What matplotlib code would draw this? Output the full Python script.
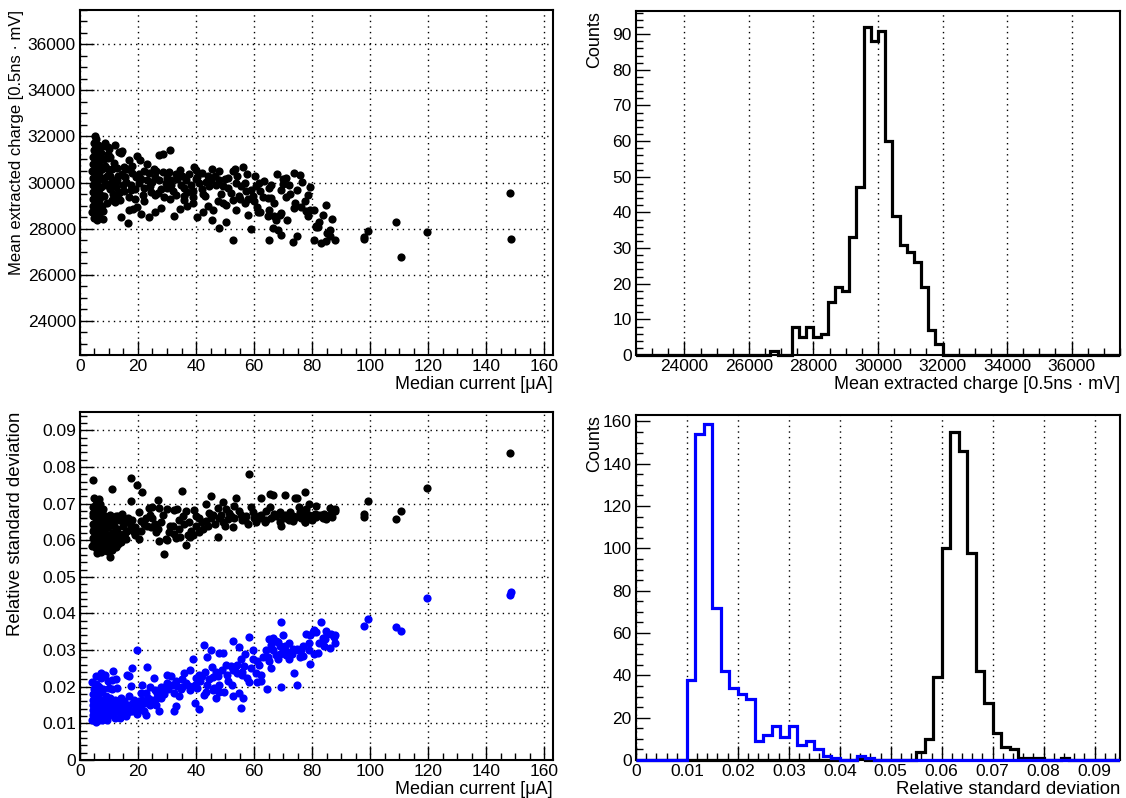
import numpy as np
import matplotlib
matplotlib.use('Agg')
import matplotlib.pyplot as plt
from matplotlib.ticker import MultipleLocator
from matplotlib.patches import Rectangle

plt.rcParams['font.family'] = ['Liberation Sans', 'DejaVu Sans']
plt.rcParams['axes.formatter.useoffset'] = False

# ---- top left: mean extracted charge vs median current ----
charge_x = [
    4.3, 4.5, 4.4, 4.6, 4.4, 4.5, 4.3, 4.6, 4.5, 4.7, 4.8,
    5.5, 5.4, 5.6, 5.3, 5.7, 5.5, 5.4, 5.6, 5.5, 5.3, 5.6, 5.4,
    6.4, 6.6, 6.5, 6.7, 6.3, 6.5, 6.6, 6.4, 6.5, 6.2, 6.1,
    7.5, 7.6, 7.4, 7.7, 7.5, 7.3, 7.1,
    8.4, 9.0, 9.4, 8.8, 10.2, 10.8, 11.4, 12.4, 9.3, 13.0, 8.2, 9.6, 13.9, 12.0, 7.9, 8.6,
    8.5, 12.0, 10.0, 13.4, 14.6, 9.6, 10.5, 14.0, 16.9, 19.8, 20.6, 27.3, 28.6, 31.1,
    11.1, 12.9, 15.2, 16.1, 14.6, 18.0, 19.2, 22.0, 23.8, 26.1, 30.7, 33.0, 39.4, 39.9,
    42.0, 45.5, 47.8, 52.6, 56.1, 60.3, 61.8, 70.1, 73.9, 75.7, 76.5, 79.4,
    11.5, 12.3, 15.7, 17.5, 20.3, 22.1, 23.2, 25.0, 27.3, 29.6, 31.3, 33.6, 34.8, 36.5,
    38.2, 41.1, 43.4, 45.1, 46.9, 49.2, 50.9, 53.8, 55.5, 57.2, 59.0, 60.7, 63.0, 64.7,
    65.9, 69.3, 71.1, 72.2, 74.9,
    11.1, 12.3, 13.4, 15.2, 17.5, 18.3, 19.8, 14.2, 16.4, 23.8, 25.8, 32.4, 34.4, 35.7,
    38.8, 40.3, 44.0, 45.5, 45.9, 47.4, 48.0, 49.2, 50.3, 52.6, 52.9, 53.8, 54.9, 56.9,
    59.1, 60.1, 61.5, 62.2, 64.7, 65.3, 66.5, 66.8, 67.4, 68.2, 68.8, 69.3, 69.3, 65.3,
    71.5, 73.4, 73.7, 74.9, 77.4, 78.0, 78.6, 79.1, 81.2,
    84.7, 79.2, 83.6, 86.9, 81.5, 82.1, 85.0, 86.3, 80.6, 83.2, 84.7, 87.8,
    98.0, 98.0, 99.4, 108.8, 110.7, 119.6, 148.1, 148.6,
    21.0, 24.0, 26.0, 28.0, 30.0, 32.0, 35.0, 37.0, 40.0, 42.0, 44.0, 48.0, 51.0, 54.0,
    57.0, 62.0, 58.0, 66.0, 68.0, 71.0, 36.0, 39.0, 43.0, 29.0, 19.0, 22.0, 26.0, 31.0,
    9.5, 10.5, 11.8, 12.8, 13.6, 14.8, 15.6, 16.8, 17.8, 18.8,
    20.5, 21.8, 23.0, 24.5, 25.5, 27.0, 28.5, 30.0, 31.5, 33.0,
    34.5, 36.0, 37.5, 39.0, 40.5, 42.5, 44.5, 46.5, 48.5, 50.0,
    52.0, 53.5, 55.0, 57.5, 59.5, 61.0, 63.5, 65.0, 67.0, 69.8,
    72.5, 74.0, 76.0, 78.5, 80.5, 82.5, 86.0, 58.0, 50.5, 42.5,
    36.8, 28.0, 21.0, 17.0, 8.0, 6.0, 5.0, 9.8, 7.8, 5.2,
]
charge_y = [
    28700, 29000, 29300, 29600, 29900, 30200, 30500, 30800, 31100, 31400, 31700,
    28550, 28850, 29150, 29450, 29750, 30050, 30350, 30650, 30950, 31250, 31550, 31880,
    28650, 28950, 29250, 29550, 29850, 30150, 30450, 30750, 31050, 31350, 31650,
    29000, 29400, 29800, 30200, 30600, 31000, 31300,
    29400, 29900, 30300, 30700, 29700, 30000, 29500, 29800, 29100, 30300, 31000, 31250, 29250, 29150, 28750, 30000,
    31730, 31630, 31440, 31340, 31390, 31050, 31130, 31270, 30980, 31150, 30980, 31180, 31240, 31420,
    30580, 30620, 30660, 30580, 30360, 30400, 30260, 30480, 30400, 30480, 30450, 30380, 30690, 30550,
    30400, 30580, 30480, 30480, 30690, 30290, 29970, 30140, 30430, 30330, 30040, 29800,
    30120, 30040, 30040, 29900, 29970, 29760, 30120, 30040, 30090, 29970, 29900, 30140, 29900, 30120,
    29900, 29970, 30040, 30120, 29900, 29830, 29760, 29970, 29830, 29610, 29680, 29830, 29390, 29320,
    29320, 29680, 29390, 29900, 29680,
    29250, 29320, 29540, 29610, 29680, 28850, 28930, 28480, 28240, 28500, 28700, 28530, 28850, 29250,
    29390, 28500, 28990, 28380, 28820, 29180, 28020, 29130, 29030, 27520, 29250, 28790, 29420, 29100,
    27980, 29180, 28700, 28700, 28530, 28790, 28020, 28530, 28380, 27950, 28600, 27730, 28670, 27490,
    28380, 27400, 28890, 27660, 29210, 28740, 28530, 28740, 28050,
    29030, 28790, 28600, 28410, 28090, 28050, 27810, 27690, 27490, 27370, 27440, 27520,
    27630, 27550, 27880, 28280, 26740, 27850, 29540, 27560,
    30150, 29850, 30250, 29700, 30200, 29650, 30300, 29600, 30150, 29700, 30300, 30100, 30200, 30300,
    30000, 29650, 29300, 29900, 30350, 30200, 29400, 29100, 29400, 29350, 29300, 29200, 29450, 29300,
    30600, 30300, 30850, 30100, 29600, 29900, 30250, 29350, 30700, 29700,
    30350, 29450, 30800, 29600, 30600, 29550, 30450, 29750, 30100, 29450,
    30550, 29750, 30350, 29650, 30250, 29500, 29850, 30300, 29500, 30150,
    29550, 30600, 29300, 30350, 29400, 28950, 30050, 29750, 29100, 29950,
    29500, 29100, 28950, 29450, 28800, 28300, 27950, 28600, 28300, 28700,
    29000, 28900, 28650, 28800, 28400, 28350, 28450, 31550, 31600, 32000,
]

# ---- bottom left: relative standard deviation vs median current ----
rsd_black_x = [
    4.3, 4.5, 4.4, 4.6, 4.4, 4.5,
    5.4, 5.6, 5.5, 5.3, 5.6, 5.5, 5.4,
    6.5, 6.4, 6.6, 6.5, 6.3, 6.6,
    7.5, 7.6, 7.4, 7.7, 7.5,
    8.5, 8.6, 8.4, 8.8, 9.5, 9.8, 10.2, 11.0, 11.5, 12.0, 12.8, 13.5, 14.2, 7.0, 8.0, 9.4,
    15.0, 16.2, 13.0, 10.5, 5.0, 4.8,
    4.55, 10.9, 17.5, 19.5, 21.5, 17.7, 6.5, 26.9, 35.1, 45.1, 58.4, 49.2, 53.8, 62.4,
    65.5, 66.5, 70.5, 74.0, 74.8, 77.4, 79.1, 81.4,
    20.3, 23.8, 25.0, 27.3, 30.1, 32.4, 33.6, 36.5, 39.4, 43.4, 47.4, 50.3, 53.2, 54.9,
    57.2, 59.5, 61.8, 64.1, 67.0, 68.8, 71.1, 73.4, 75.7, 78.0, 80.3, 52.6, 60.7, 63.6,
    69.3, 73.4, 77.4,
    12.3, 14.6, 15.7, 17.5, 20.9, 22.7, 24.4, 26.1, 27.3, 29.0, 29.6, 30.7, 32.4, 34.2,
    36.5, 37.1, 38.2, 39.9, 41.1, 43.4, 45.1, 47.4, 49.2, 50.9, 10.5, 7.1, 11.1, 12.3,
    14.0, 15.7, 20.3, 18.6, 13.4, 10.0, 8.8, 7.7, 11.7,
    78.0, 75.7, 76.9, 77.5, 81.5, 83.8, 84.7, 86.9, 86.3, 87.8,
    98.0, 98.0, 99.4, 108.8, 110.7, 119.6, 148.1,
    22.0, 25.0, 28.0, 31.0, 34.0, 36.0, 40.0, 42.0, 44.0, 46.0, 48.0, 52.0, 56.0, 58.0,
    62.0, 66.0, 70.0, 72.0, 76.0, 80.0, 82.0, 84.0, 38.0, 33.0, 27.0, 19.0,
    9.0, 10.0, 11.2, 12.5, 13.2, 14.5, 15.5, 16.5, 18.0, 19.0,
    21.0, 23.0, 24.0, 26.0, 28.5, 30.0, 32.0, 34.5, 35.5, 37.5,
    39.0, 41.0, 42.5, 44.5, 46.5, 48.5, 50.0, 51.5, 53.0, 55.5,
    57.0, 58.8, 60.0, 62.5, 64.0, 65.5, 67.5, 69.0, 70.5, 72.5,
    74.5, 75.5, 77.0, 79.0, 80.0, 81.0, 83.0, 85.0, 86.0, 88.0,
    5.0, 6.0, 7.0, 8.0, 5.8, 7.2, 6.8, 4.6, 9.2, 10.8,
]
rsd_black_y = [
    0.0585, 0.0605, 0.0625, 0.0645, 0.0665, 0.0690,
    0.0580, 0.0600, 0.0620, 0.0640, 0.0660, 0.0680, 0.0700,
    0.0590, 0.0610, 0.0630, 0.0650, 0.0670, 0.0690,
    0.0595, 0.0615, 0.0635, 0.0655, 0.0675,
    0.0600, 0.0620, 0.0645, 0.0665, 0.0610, 0.0635, 0.0655, 0.0620, 0.0645, 0.0600, 0.0630, 0.0655, 0.0615, 0.0570, 0.0580, 0.0585,
    0.0640, 0.0625, 0.0665, 0.0670, 0.0595, 0.0632,
    0.0764, 0.0739, 0.0770, 0.0750, 0.0732, 0.0707, 0.0712, 0.0710, 0.0734, 0.0721, 0.0782, 0.0705, 0.0714, 0.0714,
    0.0727, 0.0723, 0.0723, 0.0716, 0.0714, 0.0732, 0.0698, 0.0694,
    0.0676, 0.0689, 0.0691, 0.0687, 0.0685, 0.0683, 0.0685, 0.0680, 0.0682, 0.0698, 0.0689, 0.0685, 0.0694, 0.0680,
    0.0667, 0.0676, 0.0667, 0.0680, 0.0671, 0.0676, 0.0662, 0.0667, 0.0671, 0.0662, 0.0667, 0.0635, 0.0651, 0.0649,
    0.0640, 0.0653, 0.0649,
    0.0667, 0.0671, 0.0649, 0.0640, 0.0653, 0.0662, 0.0635, 0.0622, 0.0599, 0.0563, 0.0604, 0.0622, 0.0617, 0.0631,
    0.0586, 0.0613, 0.0626, 0.0640, 0.0622, 0.0653, 0.0662, 0.0608, 0.0649, 0.0658, 0.0554, 0.0568, 0.0572, 0.0581,
    0.0595, 0.0604, 0.0604, 0.0622, 0.0617, 0.0608, 0.0590, 0.0626, 0.0640,
    0.0685, 0.0676, 0.0667, 0.0650, 0.0664, 0.0662, 0.0658, 0.0664, 0.0689, 0.0686,
    0.0671, 0.0664, 0.0707, 0.0657, 0.0680, 0.0743, 0.0839,
    0.0645, 0.0660, 0.0650, 0.0640, 0.0655, 0.0645, 0.0665, 0.0650, 0.0640, 0.0670, 0.0660, 0.0665, 0.0655, 0.0645,
    0.0660, 0.0660, 0.0665, 0.0655, 0.0660, 0.0655, 0.0670, 0.0672, 0.0610, 0.0605, 0.0630, 0.0635,
    0.0650, 0.0590, 0.0655, 0.0610, 0.0590, 0.0655, 0.0620, 0.0660, 0.0655, 0.0615,
    0.0625, 0.0640, 0.0670, 0.0645, 0.0670, 0.0600, 0.0640, 0.0610, 0.0665, 0.0650,
    0.0615, 0.0660, 0.0630, 0.0675, 0.0645, 0.0670, 0.0640, 0.0675, 0.0660, 0.0670,
    0.0655, 0.0690, 0.0660, 0.0670, 0.0655, 0.0690, 0.0665, 0.0650, 0.0670, 0.0678,
    0.0663, 0.0690, 0.0672, 0.0670, 0.0660, 0.0672, 0.0668, 0.0666, 0.0670, 0.0680,
    0.0715, 0.0580, 0.0600, 0.0685, 0.0565, 0.0660, 0.0700, 0.0675, 0.0570, 0.0590,
]
rsd_blue_x = [
    4.3, 4.5, 4.4, 4.6, 4.4, 4.5, 4.7,
    5.5, 5.4, 5.6, 5.3, 5.6, 5.5, 5.4, 5.5,
    6.5, 6.4, 6.6, 6.5, 6.3, 6.6, 6.4,
    7.5, 7.6, 7.4, 7.7, 7.5, 7.3,
    8.5, 8.6, 8.4, 8.8, 9.5, 9.8, 10.2, 11.0, 11.5, 12.0, 12.8, 13.5, 14.2, 15.0, 16.2, 17.0,
    18.0, 19.5, 21.0, 22.5, 24.0, 9.0, 10.5, 12.0, 8.0, 9.5, 7.2, 12.5, 11.0, 14.0,
    19.5, 69.3, 52.6, 58.4, 42.6, 48.0, 49.2, 54.9, 55.5, 38.8, 43.9, 59.5, 65.3, 66.5,
    68.2, 68.8, 70.1, 66.5, 67.6, 68.4, 71.0, 72.2, 73.4, 74.8, 75.7, 76.8, 78.0, 78.9,
    79.4, 80.3, 81.4, 82.0, 64.7, 65.9, 69.3, 73.7, 74.9, 61.8, 60.7, 62.4, 64.4, 58.4,
    60.9, 59.5, 56.7, 55.9, 54.2, 53.6, 52.0, 50.3, 50.7, 52.6, 49.7, 52.6, 54.7, 56.3,
    55.5, 47.8, 46.9, 48.0, 45.5, 45.7, 46.3, 43.9, 43.4, 42.2, 41.1, 39.9, 40.5, 39.7,
    41.1, 42.8, 37.9, 36.0, 37.7, 35.3, 33.6, 32.4, 34.2, 33.0, 32.4, 30.1, 31.3, 29.6,
    28.4, 27.8, 26.7, 25.0, 25.5, 26.1, 27.3, 23.2, 21.5, 22.7, 20.9, 20.3, 18.6, 18.0,
    16.9, 16.3, 17.5, 16.9, 15.7, 14.6, 13.4, 12.9, 11.5, 11.1, 10.0, 8.8, 7.1, 5.6,
    4.2, 6.3, 22.9, 19.2,
    119.6, 148.1, 148.6, 99.4, 98.0, 108.8, 110.7, 83.2, 79.2, 80.6, 84.7, 85.0, 87.8, 83.6,
    84.0, 86.0, 88.0, 76.0, 72.0, 70.0, 63.0, 57.0, 45.0, 47.0, 35.0, 30.0, 24.0, 28.0,
    9.2, 10.3, 11.4, 12.6, 13.8, 15.2, 16.0, 17.2, 18.4, 19.8,
    20.5, 21.5, 22.0, 23.5, 24.5, 25.8, 26.5, 27.8, 29.0, 30.5,
    31.8, 33.0, 34.8, 36.5, 38.0, 39.5, 41.5, 43.0, 44.5, 46.0,
    47.5, 49.0, 51.0, 52.5, 54.0, 56.0, 57.5, 59.0, 61.0, 62.5,
    64.0, 65.0, 66.0, 67.5, 69.0, 70.5, 71.5, 73.0, 75.0, 77.0,
    79.0, 80.5, 82.5, 84.5, 86.5, 87.5, 5.0, 6.0, 7.0, 8.0,
]
rsd_blue_y = [
    0.0108, 0.0122, 0.0136, 0.0150, 0.0164, 0.0180, 0.0195,
    0.0105, 0.0118, 0.0132, 0.0146, 0.0160, 0.0175, 0.0190, 0.0208,
    0.0110, 0.0124, 0.0138, 0.0152, 0.0166, 0.0182, 0.0200,
    0.0108, 0.0122, 0.0136, 0.0150, 0.0165, 0.0185,
    0.0115, 0.0130, 0.0145, 0.0160, 0.0120, 0.0138, 0.0155, 0.0125, 0.0142, 0.0115, 0.0135, 0.0150, 0.0125, 0.0140, 0.0128, 0.0150,
    0.0135, 0.0145, 0.0140, 0.0155, 0.0150, 0.0175, 0.0170, 0.0165, 0.0195, 0.0215, 0.0225, 0.0220, 0.0195, 0.0170,
    0.0300, 0.0377, 0.0326, 0.0336, 0.0313, 0.0293, 0.0291, 0.0309, 0.0277, 0.0275, 0.0280, 0.0300, 0.0329, 0.0333,
    0.0323, 0.0311, 0.0302, 0.0300, 0.0288, 0.0277, 0.0286, 0.0277, 0.0302, 0.0302, 0.0282, 0.0285, 0.0343, 0.0300,
    0.0262, 0.0350, 0.0350, 0.0293, 0.0282, 0.0250, 0.0198, 0.0237, 0.0205, 0.0259, 0.0237, 0.0232, 0.0195, 0.0212,
    0.0212, 0.0276, 0.0257, 0.0232, 0.0237, 0.0255, 0.0257, 0.0259, 0.0232, 0.0246, 0.0187, 0.0174, 0.0183, 0.0169,
    0.0142, 0.0187, 0.0169, 0.0205, 0.0255, 0.0226, 0.0196, 0.0205, 0.0187, 0.0228, 0.0232, 0.0223, 0.0196, 0.0156,
    0.0138, 0.0178, 0.0246, 0.0237, 0.0201, 0.0198, 0.0201, 0.0183, 0.0174, 0.0147, 0.0133, 0.0232, 0.0228, 0.0201,
    0.0192, 0.0174, 0.0183, 0.0165, 0.0223, 0.0151, 0.0133, 0.0255, 0.0205, 0.0183, 0.0183, 0.0160, 0.0165, 0.0250,
    0.0228, 0.0232, 0.0201, 0.0174, 0.0147, 0.0138, 0.0160, 0.0196, 0.0243, 0.0219, 0.0196, 0.0232, 0.0237, 0.0230,
    0.0213, 0.0201, 0.0124, 0.0151,
    0.0441, 0.0450, 0.0458, 0.0386, 0.0367, 0.0364, 0.0351, 0.0377, 0.0341, 0.0354, 0.0351, 0.0345, 0.0341, 0.0334,
    0.0312, 0.0305, 0.0320, 0.0300, 0.0320, 0.0340, 0.0280, 0.0290, 0.0300, 0.0240, 0.0220, 0.0210, 0.0200, 0.0170,
    0.0110, 0.0130, 0.0160, 0.0145, 0.0115, 0.0160, 0.0120, 0.0135, 0.0155, 0.0125,
    0.0150, 0.0165, 0.0135, 0.0170, 0.0160, 0.0190, 0.0170, 0.0200, 0.0180, 0.0195,
    0.0205, 0.0215, 0.0195, 0.0210, 0.0190, 0.0205, 0.0215, 0.0240, 0.0220, 0.0190,
    0.0230, 0.0245, 0.0215, 0.0205, 0.0260, 0.0240, 0.0225, 0.0250, 0.0270, 0.0215,
    0.0300, 0.0270, 0.0315, 0.0325, 0.0290, 0.0310, 0.0295, 0.0290, 0.0300, 0.0310,
    0.0320, 0.0290, 0.0320, 0.0330, 0.0345, 0.0335, 0.0115, 0.0128, 0.0142, 0.0130,
]

# ---- top right: histogram of mean extracted charge ----
q_hist_lo, q_hist_hi, q_nbins = 20000, 40000, 90
q_counts = ([0] * 30 +
            [1, 0, 0, 8, 5, 8, 5, 6, 15, 19, 18, 33, 47, 92, 88, 91, 60, 39, 31, 29, 26, 19, 7, 3] +
            [0] * 36)

# ---- bottom right: histograms of relative standard deviation ----
rsd_hist_lo, rsd_hist_hi, rsd_nbins = 0.0, 0.1, 60
rsd_black_counts = ([0] * 26 + [1] + [0] * 6 +
                    [4, 10, 39, 100, 155, 146, 98, 42, 27, 13, 6, 5, 1, 1, 1] +
                    [0, 0, 1] + [0] * 6 + [1, 0, 0])
rsd_blue_counts = ([0] * 6 +
                   [38, 154, 159, 72, 42, 34, 31, 29, 9, 12, 16, 11, 16, 7, 9, 5, 2, 1, 0, 0, 2, 1] +
                   [0] * 32)

rsd_ticks = [0, 0.01, 0.02, 0.03, 0.04, 0.05, 0.06, 0.07, 0.08, 0.09]
rsd_tick_labels = ['0', '0.01', '0.02', '0.03', '0.04', '0.05', '0.06', '0.07', '0.08', '0.09']

assert len(charge_x) == len(charge_y)
assert len(rsd_black_x) == len(rsd_black_y)
assert len(rsd_blue_x) == len(rsd_blue_y)

BLUE = '#0000ff'
TICK_FS = 12.5
dots = (0, (1, 3))
MS = 5.9


def style_axes(ax, grid_axis):
    for sp in ax.spines.values():
        sp.set_linewidth(1.5)
    ax.tick_params(which='both', direction='in', top=False, right=False, width=1,
                   labelsize=TICK_FS, pad=3)
    ax.tick_params(which='major', length=10)
    ax.tick_params(which='minor', length=5)
    ax.grid(True, which='major', axis=grid_axis, color='k', linestyle=dots, linewidth=1)
    ax.set_axisbelow(True)


def hist_line(ax, counts, edges, color):
    # let the zero level sit on top of the frame, as in the original
    st = ax.stairs(counts, edges, color=color, linewidth=2.3, zorder=3)
    st.set_clip_path(Rectangle((0, -0.02), 1, 1.04, transform=ax.transAxes))


fig = plt.figure(figsize=(11.26, 7.98), dpi=100)

ax_tl = fig.add_axes([0.0710, 0.5551, 0.4201, 0.4324])
ax_tr = fig.add_axes([0.5648, 0.5551, 0.4299, 0.4311])
ax_bl = fig.add_axes([0.0710, 0.0476, 0.4201, 0.4361])
ax_br = fig.add_axes([0.5648, 0.0476, 0.4299, 0.4323])

# top left
ax_tl.plot(charge_x, charge_y, 'o', color='k', ms=MS, mew=0)
ax_tl.set_xlim(0, 163)
ax_tl.set_ylim(22500, 37500)
ax_tl.xaxis.set_major_locator(MultipleLocator(20))
ax_tl.xaxis.set_minor_locator(MultipleLocator(5))
ax_tl.yaxis.set_major_locator(MultipleLocator(2000))
ax_tl.yaxis.set_minor_locator(MultipleLocator(500))
style_axes(ax_tl, 'both')
ax_tl.set_xlabel('Median current [\u03bcA]', fontsize=13, ha='right')
ax_tl.xaxis.set_label_coords(1.0, -0.06)
ax_tl.set_ylabel('Mean extracted charge [0.5ns \u00b7 mV]', fontsize=12, ha='right')
ax_tl.yaxis.set_label_coords(-0.118, 1.0)

# top right
q_edges = np.linspace(q_hist_lo, q_hist_hi, q_nbins + 1)
hist_line(ax_tr, q_counts, q_edges, 'k')
ax_tr.set_xlim(22500, 37500)
ax_tr.set_ylim(0, 96.5)
ax_tr.xaxis.set_major_locator(MultipleLocator(2000))
ax_tr.xaxis.set_minor_locator(MultipleLocator(500))
ax_tr.yaxis.set_major_locator(MultipleLocator(10))
ax_tr.yaxis.set_minor_locator(MultipleLocator(2))
style_axes(ax_tr, 'x')
ax_tr.set_xlabel('Mean extracted charge [0.5ns \u00b7 mV]', fontsize=13, ha='right')
ax_tr.xaxis.set_label_coords(1.0, -0.06)
ax_tr.set_ylabel('Counts', fontsize=13, ha='right')
ax_tr.yaxis.set_label_coords(-0.068, 1.0)

# bottom left
ax_bl.plot(rsd_black_x, rsd_black_y, 'o', color='k', ms=MS, mew=0)
ax_bl.plot(rsd_blue_x, rsd_blue_y, 'o', color=BLUE, ms=MS, mew=0)
ax_bl.set_xlim(0, 163)
ax_bl.set_ylim(0, 0.095)
ax_bl.xaxis.set_major_locator(MultipleLocator(20))
ax_bl.xaxis.set_minor_locator(MultipleLocator(5))
ax_bl.set_yticks(rsd_ticks, rsd_tick_labels)
ax_bl.yaxis.set_minor_locator(MultipleLocator(0.002))
style_axes(ax_bl, 'both')
ax_bl.set_xlabel('Median current [\u03bcA]', fontsize=13, ha='right')
ax_bl.xaxis.set_label_coords(1.0, -0.06)
ax_bl.set_ylabel('Relative standard deviation', fontsize=13.4, ha='right')
ax_bl.yaxis.set_label_coords(-0.118, 1.0)

# bottom right
rsd_edges = np.linspace(rsd_hist_lo, rsd_hist_hi, rsd_nbins + 1)
hist_line(ax_br, rsd_black_counts, rsd_edges, 'k')
hist_line(ax_br, rsd_blue_counts, rsd_edges, BLUE)
ax_br.set_xlim(0, 0.095)
ax_br.set_ylim(0, 163)
ax_br.set_xticks(rsd_ticks, rsd_tick_labels)
ax_br.xaxis.set_minor_locator(MultipleLocator(0.002))
ax_br.yaxis.set_major_locator(MultipleLocator(20))
ax_br.yaxis.set_minor_locator(MultipleLocator(5))
style_axes(ax_br, 'x')
ax_br.set_xlabel('Relative standard deviation', fontsize=13.4, ha='right')
ax_br.xaxis.set_label_coords(1.0, -0.06)
ax_br.set_ylabel('Counts', fontsize=13, ha='right')
ax_br.yaxis.set_label_coords(-0.068, 1.0)

fig.savefig('out.png', dpi=100)
